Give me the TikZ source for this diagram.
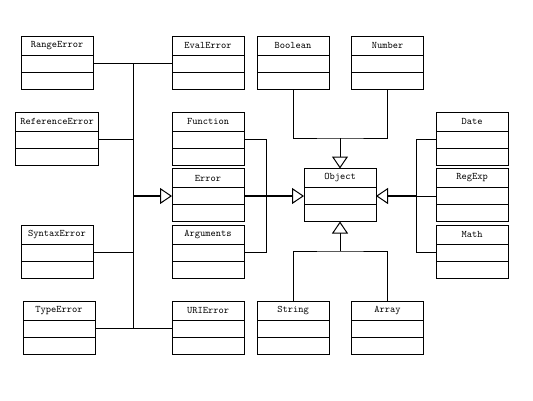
\documentclass[tikz,border=0pt]{standalone}
\usetikzlibrary{positioning,arrows.meta}

% one class box: name, x, y, width, text
\newcommand\umlclass[5]{%
  \node[head,minimum width=#4] (#1) at (#2,#3) {#5};
  \node[comp,minimum width=#4,below=0pt of #1] (#1-a) {};
  \node[comp,minimum width=#4,below=0pt of #1-a] (#1-b) {};
}

\begin{document}
\begin{tikzpicture}[x=1pt,y=-1pt,line width=1pt,
    head/.style={draw,outer sep=0pt,inner sep=0pt,minimum height=19pt,
      font=\ttfamily\fontsize{10}{12}\selectfont,text=black},
    comp/.style={draw,outer sep=0pt,inner sep=0pt,minimum height=17pt},
    inherit/.style={-{Triangle[open,length=12pt,width=16pt,line width=1pt]}},
    bold/.style={line width=1.6pt}]
\useasboundingbox (0,0) rectangle (533,400);
% classes
\umlclass{range}{57}{45.5}{72}{RangeError}
\umlclass{eval}{208}{45.5}{72}{EvalError}
\umlclass{boolean}{293}{45.5}{72}{Boolean}
\umlclass{number}{387.5}{45.5}{72}{Number}
\umlclass{reference}{57.2}{121.5}{83}{ReferenceError}
\umlclass{function}{208}{121.5}{72}{Function}
\umlclass{date}{472}{121.5}{72}{Date}
\umlclass{error}{208}{178}{72}{Error}
\umlclass{object}{340}{178}{72}{Object}
\umlclass{regexp}{472}{178}{72}{RegExp}
\umlclass{syntax}{57}{234.5}{72}{SyntaxError}
\umlclass{arguments}{208}{234.5}{72}{Arguments}
\umlclass{math}{472}{234.5}{72}{Math}
\umlclass{type}{59}{310.5}{72}{TypeError}
\umlclass{uri}{208}{310.5}{72}{URIError}
\umlclass{string}{293}{310.5}{72}{String}
\umlclass{array}{387.5}{310.5}{72}{Array}
% error family
\coordinate (trunk) at (133,0);
\draw (range-a.east) -- (eval-a.west);
\draw (type-a.east) -- (uri-a.west);
\draw (trunk |- range-a.east) -- (trunk |- type-a.east);
\draw (reference-a.east) -- (trunk |- reference-a.east);
\draw (syntax-a.east) -- (trunk |- syntax-a.east);
\draw[inherit,bold] (trunk |- error-a.west) -- (error-a.west);
% into Object
\draw (function-a.east) -- ++(22,0) |- (arguments-a.east);
\draw[inherit,bold] (error-a.east) -- (object-a.west);
\coordinate (rbar) at (416,0);
\draw (date-a.west) -| (rbar |- math-a.west) -- (math-a.west);
\draw (regexp-a.west) -- (rbar |- regexp-a.west);
\draw[inherit,bold] (rbar |- regexp-a.west) -- (object-a.east);
\coordinate (topjoin) at (340,138);
\draw (boolean-b.south) |- (topjoin) -| (number-b.south);
\draw[inherit] (topjoin) -- (object.north);
\coordinate (botjoin) at (340,251);
\draw (string.north) |- (botjoin) -| (array.north);
\draw[inherit] (botjoin) -- (object-b.south);
\end{tikzpicture}
\end{document}
